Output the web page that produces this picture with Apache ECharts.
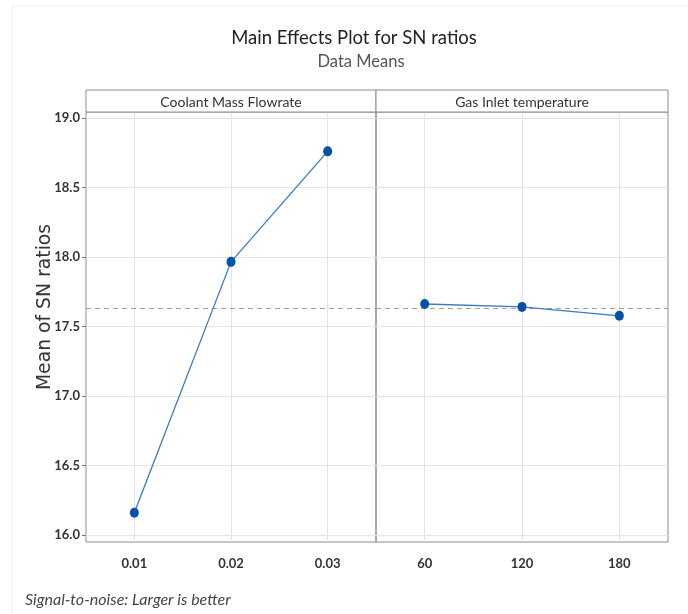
<!DOCTYPE html>
<html>
<head>
<meta charset="utf-8">
<script src="https://cdn.jsdelivr.net/npm/echarts@6/dist/echarts.min.js"></script>
<style>
html,body{margin:0;padding:0;background:#fff;}
#chart{width:688px;height:614px;}
</style>
</head>
<body>
<div id="chart"></div>
<script>
// ---- data ----
const flowCategories = ['0.01', '0.02', '0.03'];
const flowSN = [16.16, 17.965, 18.76];
const tempCategories = ['60', '120', '180'];
const tempSN = [17.662, 17.641, 17.577];
const overallMean = 17.626;
const panelTitles = ['Coolant Mass Flowrate', 'Gas Inlet temperature'];
const yMin = 16.0, yMax = 19.0, yStep = 0.5;

// ---- layout ----
const L1 = 86, W1 = 290, L2 = 376, W2 = 292;
const frameTop = 112, frameH = 430;
const dataTop = 118, dataH = 417;
const headerTop = 90, headerH = 22;

const chart = echarts.init(document.getElementById('chart'));
const labelFont = { fontFamily: 'Lato', fontWeight: 'bold', fontSize: 13, color: '#333' };
const lineColor = '#3b7bc0';
const markerColor = '#0552a8';
const gridColor = '#e4e4e4';

function frameX(cats, gi) {
  return {
    type: 'category', gridIndex: gi, data: cats, boundaryGap: true,
    axisLine: { show: false }, axisTick: { show: false, alignWithLabel: true },
    axisLabel: Object.assign({ margin: 15 }, labelFont),
    splitLine: { show: true, alignWithLabel: true, lineStyle: { color: gridColor, width: 1 } }
  };
}
function hiddenX(cats, gi) {
  return { type: 'category', gridIndex: gi, data: cats, boundaryGap: true, show: false };
}
function dataY(gi, showLabels) {
  return {
    type: 'value', gridIndex: gi, min: yMin, max: yMax, interval: yStep,
    axisLine: { show: false },
    axisTick: { show: showLabels, length: 4, lineStyle: { color: '#777' } },
    axisLabel: Object.assign({ show: showLabels, margin: 6, formatter: v => v.toFixed(1) }, labelFont),
    splitLine: { show: true, lineStyle: { color: gridColor, width: 1 } }
  };
}
function hiddenY(gi) {
  return { type: 'value', gridIndex: gi, min: 0, max: 1, show: false, splitLine: { show: false } };
}
function seriesFor(vals, xi, yi) {
  return {
    type: 'line', xAxisIndex: xi, yAxisIndex: yi, data: vals,
    symbol: 'circle', symbolSize: [9, 10],
    itemStyle: { color: markerColor },
    lineStyle: { color: lineColor, width: 1.3 },
    z: 5,
    markLine: {
      silent: true, symbol: 'none', label: { show: false },
      lineStyle: { color: '#a0a0a0', type: [5, 4], width: 1.2 },
      data: [{ yAxis: overallMean }]
    }
  };
}

const option = {
  animation: false,
  backgroundColor: '#fff',
  grid: [
    { left: L1, width: W1, top: frameTop, height: frameH, show: true, borderColor: '#8c8c8c', borderWidth: 1, backgroundColor: 'transparent' },
    { left: L2, width: W2, top: frameTop, height: frameH, show: true, borderColor: '#8c8c8c', borderWidth: 1, backgroundColor: 'transparent' },
    { left: L1, width: W1, top: dataTop, height: dataH },
    { left: L2, width: W2, top: dataTop, height: dataH }
  ],
  xAxis: [
    frameX(flowCategories, 0), frameX(tempCategories, 1),
    hiddenX(flowCategories, 2), hiddenX(tempCategories, 3)
  ],
  yAxis: [
    hiddenY(0), hiddenY(1),
    dataY(2, true), dataY(3, false)
  ],
  series: [
    seriesFor(flowSN, 2, 2),
    seriesFor(tempSN, 3, 3)
  ],
  graphic: [
    { type: 'rect', shape: { x: 12, y: 6, width: 720, height: 700 }, style: { fill: 'none', stroke: '#efefef', lineWidth: 1 }, z: 0 },
    { type: 'rect', shape: { x: L1, y: headerTop, width: W1, height: headerH }, style: { fill: '#fff', stroke: '#8c8c8c', lineWidth: 1 }, z: 10 },
    { type: 'rect', shape: { x: L2, y: headerTop, width: W2, height: headerH }, style: { fill: '#fff', stroke: '#8c8c8c', lineWidth: 1 }, z: 10 },
    { type: 'text', x: L1 + W1 / 2, y: headerTop + headerH / 2 + 1, style: { text: panelTitles[0], align: 'center', verticalAlign: 'middle', fontFamily: 'Lato', fontSize: 14, fill: '#333' }, z: 11 },
    { type: 'text', x: L2 + W2 / 2, y: headerTop + headerH / 2 + 1, style: { text: panelTitles[1], align: 'center', verticalAlign: 'middle', fontFamily: 'Lato', fontSize: 14, fill: '#333' }, z: 11 },
    { type: 'text', x: 354, y: 38, style: { text: 'Main Effects Plot for SN ratios', align: 'center', verticalAlign: 'middle', fontFamily: 'Lato', fontSize: 18.5, fill: '#222' } },
    { type: 'text', x: 361, y: 62, style: { text: 'Data Means', align: 'center', verticalAlign: 'middle', fontFamily: 'Lato', fontSize: 16.5, fill: '#555' } },
    { type: 'text', x: 45, y: 307, rotation: Math.PI / 2, style: { text: 'Mean of SN ratios', align: 'center', verticalAlign: 'middle', fontFamily: 'DejaVu Sans', fontSize: 18.8, fill: '#333' } },
    { type: 'text', x: 25, y: 600, style: { text: 'Signal-to-noise: Larger is better', align: 'left', verticalAlign: 'middle', fontFamily: 'Lato', fontStyle: 'italic', fontSize: 16, fill: '#444' } }
  ]
};
chart.setOption(option);
</script>
</body>
</html>
